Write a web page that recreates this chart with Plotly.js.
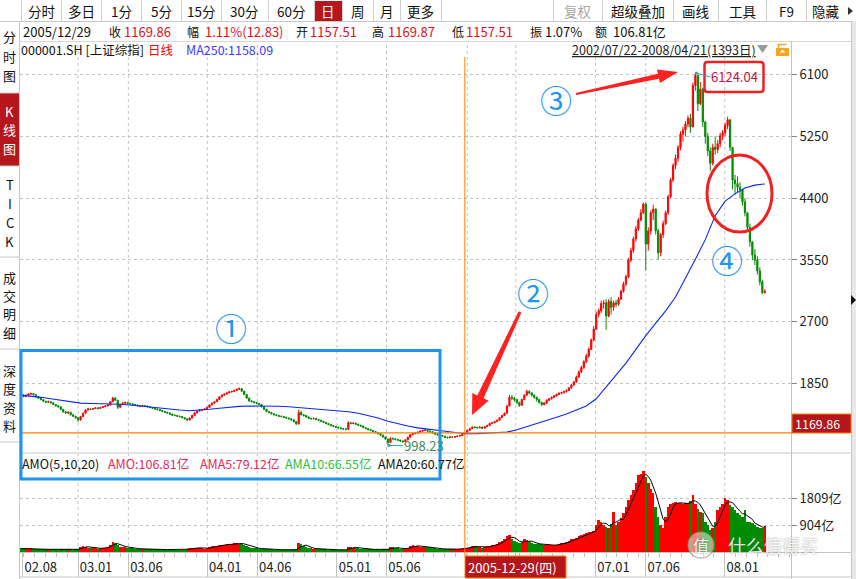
<!DOCTYPE html>
<html>
<head>
<meta charset="utf-8">
<script src="https://cdn.plot.ly/plotly-3.0.1.min.js"></script>
<style>
html,body{margin:0;padding:0;background:#ffffff;overflow:hidden;}
#chart{width:856px;height:579px;}
</style>
</head>
<body>
<div id="chart"></div>
<script>
// ---------------- data: weekly bars (上证综指 2002/07/22-2008/04/21) ----------------
const firstOpen = 1700;
const weekClose = [
1690,1672,1690,1705,1712,1695,1668,1650,1628,1605,
1592,1600,1585,1560,1545,1530,1495,1460,1445,1455,
1420,1400,1378,1350,1395,1440,1485,1500,1495,1505,
1515,1505,1520,1530,1540,1555,1600,1650,1620,1525,
1560,1580,1590,1575,1570,1560,1555,1545,1538,1545,
1540,1530,1520,1510,1500,1492,1480,1465,1455,1445,
1430,1415,1410,1400,1395,1380,1365,1350,1375,1410,
1445,1470,1485,1490,1500,1520,1555,1580,1600,1630,
1665,1690,1705,1720,1735,1740,1755,1770,1780,1745,
1700,1650,1610,1600,1590,1575,1560,1530,1495,1465,
1450,1435,1420,1410,1400,1395,1385,1375,1365,1350,
1325,1295,1450,1420,1410,1390,1370,1365,1370,1355,
1345,1330,1315,1300,1285,1270,1260,1250,1240,1230,
1225,1220,1310,1300,1305,1290,1275,1265,1245,1230,
1215,1205,1190,1175,1160,1140,1115,1085,1040,1095,
1090,1080,1070,1058,1050,1075,1110,1145,1160,1165,
1180,1195,1205,1210,1195,1185,1170,1155,1145,1135,
1125,1112,1105,1115,1110,1120,1128,1135,1150,1170,
1205,1230,1250,1245,1240,1250,1235,1255,1270,1300,
1310,1325,1345,1380,1410,1440,1540,1660,1650,1630,
1590,1550,1630,1690,1740,1720,1690,1660,1630,1590,
1560,1580,1620,1640,1660,1680,1700,1715,1725,1740,
1755,1790,1830,1870,1940,2010,2070,2150,2230,2320,
2450,2600,2800,2850,2950,2960,2780,2980,2900,2960,
2940,3010,3120,3220,3320,3550,3680,3840,3980,4100,
4200,4320,3770,3950,4200,4250,3950,3650,3900,4050,
4200,4420,4650,4850,4950,5100,5280,5340,5420,5500,
5380,5950,6090,5700,5900,5450,5250,5050,4880,5100,
5070,5150,5260,5300,5400,5480,5100,4650,4600,4550,
4520,4350,4200,4000,3800,3620,3550,3400,3250,3100,3116];
const weekHigh = [
1712,1700,1698,1715,1725,1718,1700,1675,1655,1632,
1612,1615,1605,1590,1565,1555,1535,1500,1470,1465,
1460,1428,1405,1385,1405,1450,1495,1515,1510,1515,
1525,1522,1530,1540,1550,1565,1610,1665,1660,1625,
1570,1592,1600,1595,1585,1578,1570,1560,1552,1555,
1552,1545,1535,1525,1515,1505,1495,1485,1470,1460,
1450,1435,1425,1415,1408,1400,1385,1370,1385,1420,
1455,1480,1495,1500,1510,1530,1565,1592,1610,1640,
1675,1700,1715,1730,1745,1752,1765,1782,1795,1785,
1750,1705,1655,1620,1605,1595,1580,1565,1535,1500,
1470,1455,1440,1428,1418,1410,1400,1392,1382,1370,
1355,1330,1490,1475,1430,1415,1395,1380,1382,1375,
1360,1350,1335,1320,1305,1290,1278,1268,1258,1248,
1240,1235,1330,1320,1318,1310,1295,1282,1270,1250,
1235,1222,1210,1195,1180,1165,1145,1120,1090,1110,
1105,1098,1088,1078,1068,1085,1120,1155,1170,1178,
1190,1205,1215,1223,1215,1200,1190,1175,1160,1150,
1140,1130,1118,1125,1122,1130,1138,1145,1158,1175,
1215,1240,1262,1265,1255,1262,1255,1265,1285,1312,
1322,1335,1355,1390,1420,1450,1555,1695,1690,1665,
1635,1600,1640,1700,1765,1755,1730,1700,1670,1640,
1600,1595,1630,1650,1672,1692,1712,1728,1738,1752,
1768,1800,1845,1885,1960,2030,2095,2170,2260,2345,
2470,2640,2840,2880,2990,3000,3010,3010,3040,2990,
3000,3040,3140,3250,3350,3580,3720,3870,4020,4130,
4250,4340,4335,4000,4230,4310,4260,3980,3920,4090,
4230,4450,4680,4880,5000,5130,5320,5380,5460,5540,
5560,5990,6124,6100,6000,5920,5460,5300,5100,5150,
5250,5200,5300,5340,5440,5522,5480,5100,4720,4700,
4620,4520,4400,4200,4050,3800,3700,3600,3450,3280,3150];
const weekLow = [
1675,1660,1662,1680,1695,1688,1660,1640,1620,1598,
1582,1585,1575,1552,1530,1520,1485,1450,1430,1430,
1410,1390,1365,1320,1340,1390,1435,1480,1485,1490,
1500,1495,1500,1515,1525,1535,1550,1595,1610,1500,
1510,1555,1570,1565,1560,1548,1545,1535,1525,1530,
1530,1522,1510,1500,1490,1480,1470,1455,1445,1435,
1420,1405,1398,1392,1385,1372,1355,1335,1340,1370,
1405,1440,1465,1475,1485,1495,1515,1550,1578,1595,
1625,1660,1685,1700,1715,1725,1735,1750,1760,1735,
1690,1640,1600,1590,1575,1565,1550,1520,1485,1455,
1440,1425,1412,1400,1390,1385,1375,1365,1355,1340,
1315,1280,1285,1410,1395,1380,1360,1355,1355,1345,
1335,1320,1305,1290,1275,1262,1250,1240,1230,1220,
1212,1205,1215,1290,1290,1280,1265,1255,1235,1220,
1205,1195,1180,1165,1150,1130,1105,1075,998,1030,
1075,1068,1060,1045,1038,1045,1070,1105,1140,1150,
1160,1175,1190,1198,1185,1175,1160,1145,1135,1125,
1115,1100,1095,1100,1100,1105,1115,1122,1130,1148,
1165,1200,1225,1235,1228,1235,1225,1230,1250,1265,
1295,1305,1320,1340,1375,1405,1435,1535,1620,1600,
1570,1530,1545,1620,1680,1700,1670,1640,1600,1575,
1540,1550,1570,1610,1630,1650,1670,1690,1700,1712,
1725,1745,1780,1820,1860,1925,1990,2050,2130,2200,
2310,2430,2590,2760,2820,2880,2590,2760,2800,2850,
2900,2920,3000,3100,3190,3300,3520,3650,3800,3950,
4080,4180,3404,3680,3900,4100,3900,3560,3600,3850,
4030,4170,4400,4620,4800,4900,5060,5180,5250,5380,
5300,5380,5880,5600,5680,5380,5150,4980,4778,4850,
5000,5020,5100,5200,5250,5350,5050,4520,4450,4480,
4400,4300,4150,3950,3730,3550,3480,3350,3200,3080,3090];
// average daily turnover of each week (亿)
const weekAmount = [
120,110,105,115,130,110,100,95,90,95,
85,90,95,88,85,80,95,100,90,85,
85,80,85,110,180,200,170,150,120,130,
120,115,130,140,150,170,250,340,300,220,
180,170,160,150,130,120,110,105,100,100,
95,95,90,88,85,85,82,80,85,80,
78,75,75,72,70,75,80,90,130,140,
150,140,130,120,110,120,160,190,200,210,
230,250,240,260,270,280,290,300,280,270,
240,200,170,150,130,120,110,100,100,95,
90,85,80,80,78,75,75,72,70,70,
75,90,300,260,200,160,130,120,110,100,
100,95,90,85,80,80,78,75,72,70,
70,75,180,160,150,140,120,110,100,95,
90,90,85,85,80,80,85,90,110,170,
160,130,120,110,100,120,150,200,220,210,
190,180,170,175,180,160,130,120,110,105,
100,95,90,90,95,100,100,105,110,115,
150,180,200,190,170,160,150,170,190,210,
220,240,280,320,380,430,520,570,450,380,
330,300,350,420,400,340,300,280,260,270,
260,240,230,220,230,240,250,270,290,310,
340,380,420,440,480,520,560,600,640,660,
680,700,900,1072,1000,900,850,800,950,1350,
905,1000,1150,1300,1500,1740,1900,2077,2300,2580,
2600,2725,2500,2300,2100,1965,1500,1183,900,793,
1183,1518,1600,1650,1685,1640,1630,1600,1650,1630,
1700,1900,1600,1450,1350,1295,1015,900,740,800,
1000,1407,1500,1600,1800,1740,1575,1500,1400,1295,
1250,1183,1400,1015,1000,960,900,850,800,795,880];
// MA250 read every 4th week
const ma250Step = 4;
const ma250 = [
1690,1678,1660,1640,1622,1600,1580,1575,1573,1572,
1565,1555,1540,1530,1515,1500,1485,1476,1482,1496,
1510,1528,1536,1540,1541,1540,1538,1530,1518,1508,
1500,1490,1480,1462,1440,1410,1375,1330,1295,1265,
1240,1220,1205,1190,1172,1158,1160,1165,1170,1182,
1215,1255,1300,1340,1385,1430,1480,1540,1640,1800,
1960,2130,2320,2510,2680,2850,3040,3290,3560,3830,
4160,4360,4460,4540,4580,4596];
const priceTicks = [1850,2700,3550,4400,5250,6100];
const amountTicks = [904,1809];
const amountTickText = ['904亿','1809亿'];
const dateTickVals = ['2002-07-29','2003-01-01','2003-05-23','2004-01-01','2004-05-21','2005-01-01','2005-05-21','2006-01-04','2006-05-21','2007-01-01','2007-05-23','2008-01-01'];
const dateTickText = ['02.08','03.01','03.06','04.01','04.06','05.01','05.06','','','07.01','07.06','08.01'];
const gridDates = dateTickVals.slice(1);
const lowWeek = 148, peakWeek = 272, cursorWeek = 179;

// ---------------- derived series ----------------
const weekDates = weekClose.map((_, i) => new Date(Date.UTC(2002, 6, 22 + 2 + 7 * i)).toISOString().slice(0, 10));
const weekOpen = weekClose.map((c, i) => i === 0 ? firstOpen : weekClose[i - 1]);
const hi = weekHigh.map((h, i) => Math.max(h, weekOpen[i], weekClose[i]));
const lo = weekLow.map((l, i) => Math.min(l, weekOpen[i], weekClose[i]));
const UP = '#FF0000', DOWN = '#008C00';
const volColors = weekClose.map((c, i) => c >= weekOpen[i] ? UP : DOWN);
const maDates = ma250.map((_, k) => weekDates[k * ma250Step]);
const amaLine = weekAmount.map((v, i) => { const s = weekAmount.slice(Math.max(0, i - 3), i + 1); return s.reduce((a, b) => a + b, 0) / s.length; });

// ---------------- pixel helpers for frame decorations ----------------
const L = 20, R = 791, T = 57, B = 552;
const PW = R - L, PH = B - T;
const fx = x => (x - L) / PW;
const fy = y => (B - y) / PH;
const FONT = '"Noto Sans CJK SC", "Noto Sans", "DejaVu Sans", sans-serif';
const RED = '#E0101A';
const shapes = [], ann = [];
function line(x0, y0, x1, y1, color, width, dash) {
  shapes.push({type:'line', xref:'paper', yref:'paper', x0:fx(x0), y0:fy(y0), x1:fx(x1), y1:fy(y1), line:{color:color, width:width || 1, dash:dash || 'solid'}, layer:'above'});
}
function rect(x0, y0, x1, y1, fill, stroke, width) {
  shapes.push({type:'rect', xref:'paper', yref:'paper', x0:fx(x0), y0:fy(y0), x1:fx(x1), y1:fy(y1), fillcolor:fill || 'rgba(0,0,0,0)', line:{color:stroke || 'rgba(0,0,0,0)', width:stroke ? (width || 1) : 0}, layer:'above'});
}
function pt(p) { return fx(p[0]).toFixed(5) + ',' + fy(p[1]).toFixed(5); }
function poly(pts, fill, stroke, width, open) {
  const d = pts.map((p, i) => (i ? 'L' : 'M') + pt(p)).join(' ') + (open ? '' : ' Z');
  shapes.push({type:'path', xref:'paper', yref:'paper', path:d, fillcolor:fill || 'rgba(0,0,0,0)', line:{color:stroke || 'rgba(0,0,0,0)', width:stroke ? (width || 1) : 0}, layer:'above'});
}
function roundRect(x0, y0, x1, y1, r, stroke, width) {
  const d = 'M' + pt([x0 + r, y0]) + ' L' + pt([x1 - r, y0]) + ' Q' + pt([x1, y0]) + ' ' + pt([x1, y0 + r]) +
    ' L' + pt([x1, y1 - r]) + ' Q' + pt([x1, y1]) + ' ' + pt([x1 - r, y1]) +
    ' L' + pt([x0 + r, y1]) + ' Q' + pt([x0, y1]) + ' ' + pt([x0, y1 - r]) +
    ' L' + pt([x0, y0 + r]) + ' Q' + pt([x0, y0]) + ' ' + pt([x0 + r, y0]) + ' Z';
  shapes.push({type:'path', xref:'paper', yref:'paper', path:d, line:{color:stroke, width:width}, layer:'above'});
}
function arrow(x0, y0, x1, y1, tailW, shaftW, headLen, headW, color) {
  const dx = x1 - x0, dy = y1 - y0, len = Math.hypot(dx, dy), ux = dx / len, uy = dy / len, nx = -uy, ny = ux;
  const bx = x1 - ux * headLen, by = y1 - uy * headLen;
  poly([[x0 + nx * tailW / 2, y0 + ny * tailW / 2], [bx + nx * shaftW / 2, by + ny * shaftW / 2], [bx + nx * headW / 2, by + ny * headW / 2], [x1, y1],
        [bx - nx * headW / 2, by - ny * headW / 2], [bx - nx * shaftW / 2, by - ny * shaftW / 2], [x0 - nx * tailW / 2, y0 - ny * tailW / 2]], color);
}
function text(x, y, s, color, size, anchor, fontExtra) {
  ann.push({xref:'paper', yref:'paper', x:fx(x), y:fy(y), text:s, showarrow:false, xanchor:anchor || 'left', yanchor:'middle',
    font:Object.assign({family:FONT, size:size || 13, color:color || '#111'}, fontExtra || {}), borderpad:0});
}

// vertical dotted grid
gridDates.forEach(d => shapes.push({type:'line', xref:'x', yref:'paper', x0:d, x1:d, y0:0, y1:fy(42), line:{color:'#C4C4C4', width:1, dash:'dot'}, layer:'below'}));

// toolbar
const cells = [[21,61,'分时'],[61,101,'多日'],[101,141,'1分'],[141,181,'5分'],[181,221,'15分'],[221,268,'30分'],[268,314,'60分'],[314,342,'日'],[342,373,'周'],[373,400,'月'],[400,441,'更多'],[441,553,''],[553,602,'复权'],[602,673,'超级叠加'],[673,718,'画线'],[718,766,'工具'],[766,806,'F9'],[806,856,'隐藏']];
rect(314, 1, 342, 21, '#B5161B');
cells.forEach(c => {
  line(c[0] + 0.5, 0, c[0] + 0.5, 21, '#D0D0D0');
  const cx = c[2] === '隐藏' ? 826 : (c[0] + c[1]) / 2;
  const col = c[2] === '日' ? '#FFFFFF' : (c[2] === '复权' ? '#A8A8A8' : '#111');
  if (c[2]) text(cx, 11, c[2], col, 13.5, 'center');
});
poly([[848, 7], [848, 15], [853, 11]], '#333');
line(0, 21.5, 856, 21.5, '#C8C8C8');
line(20, 41.5, 851, 41.5, '#D6D6D6');

// left sidebar
rect(0, 93, 19, 166, '#B5161B');
line(19.5, 21, 19.5, 579, '#C8C8C8');
[93, 166, 257, 349, 442].forEach(y => line(0, y, 19, y, '#C8C8C8'));
[['分',37],['时',56.5],['图',75.5]].forEach(a => text(9.5, a[1], a[0], '#111', 13, 'center'));
[['K',111],['线',130],['图',148.5]].forEach(a => text(9.5, a[1], a[0], '#FFFFFF', 13, 'center'));
[['T',184],['I',203],['C',222.5],['K',241.5]].forEach(a => text(9.5, a[1], a[0], '#111', 13, 'center'));
[['成',277],['交',295],['明',313.5],['细',332],['深',370],['度',388],['资',407],['料',425]].forEach(a => text(9.5, a[1], a[0], '#111', 13, 'center'));

// info rows
text(22, 31, '2005/12/29', '#111', 13);
text(108, 31, '收', '#111', 12); text(123, 31, '1169.86', RED, 13);
text(186, 31, '幅', '#111', 12); text(204, 31, '1.11%(12.83)', RED, 13);
text(295, 31, '开', '#111', 12); text(309, 31, '1157.51', RED, 13);
text(371, 31, '高', '#111', 12); text(387, 31, '1169.87', RED, 13);
text(451, 31, '低', '#111', 12); text(465, 31, '1157.51', RED, 13);
text(529, 31, '振', '#111', 12); text(544, 31, '1.07%', '#111', 13);
text(594, 31, '额', '#111', 12); text(612, 31, '106.81亿', '#111', 13);
text(20, 50, '000001.SH [上证综指]', '#111', 12.5);
text(147, 50, '日线', '#FF0000', 12.5);
text(185, 50, 'MA250:1158.09', '#3C3CFF', 12.5);
text(571, 50, '2002/07/22-2008/04/21(1393日)', '#222', 12.5, 'left', {lineposition:'under'});
poly([[757, 45], [768, 45], [762.5, 53]], '#9A9A9A');
rect(776, 48, 789, 56, '#F5A623');
poly([[778.5, 48], [778.5, 44.5], [786.5, 44.5]], null, '#F5A623', 1.6, true);
poly([[782.5, 49.5], [779.8, 52.6], [785.2, 52.6]], '#FFFFFF');

// frame lines
line(20, 453, 851, 453, '#C8C8C8');
line(791.5, 41, 791.5, 579, '#C4C4C4');
line(851.5, 21, 851.5, 579, '#C8C8C8');
rect(852, 21, 856, 579, '#E8E8E8');
poly([[851, 295], [851, 305], [856, 300]], '#111');
line(20, 552.5, 851, 552.5, '#C4C4C4');
line(20, 577, 851, 577, '#C8C8C8');

// volume legend
text(21, 463, 'AMO(5,10,20)', '#111', 12.5);
text(107, 463, 'AMO:106.81亿', '#E8285A', 12.5);
text(199, 463, 'AMA5:79.12亿', '#E8285A', 12.5);
text(284, 463, 'AMA10:66.55亿', '#33C033', 12.5);
text(377, 463, 'AMA20:60.77亿', '#111', 12.5);

// crosshair at 2005-12-29
shapes.push({type:'line', xref:'x', yref:'paper', x0:weekDates[cursorWeek], x1:weekDates[cursorWeek], y0:fy(556), y1:1, line:{color:'#FF8000', width:1}, layer:'above'});
shapes.push({type:'line', xref:'paper', yref:'y', x0:0, x1:fx(792), y0:1169.86, y1:1169.86, line:{color:'#FF8000', width:1.2}, layer:'above'});
rect(792, 414, 851, 433, '#B5161B', '#FF8000', 1);
text(794, 423.5, '1169.86', '#FFFFFF', 12.5);
rect(465, 556, 566, 578, '#B5161B', '#FF8000', 1);
text(467, 567, '2005-12-29(四)', '#FFFFFF', 13);

// markers
ann.push({xref:'x', yref:'y', x:weekDates[lowWeek], y:998.23, text:'998.23', showarrow:true, ax:15, ay:0, xanchor:'left', yanchor:'middle',
  arrowhead:7, arrowsize:0.7, arrowwidth:1, arrowcolor:'#3BA0B5', standoff:1, borderpad:0, font:{family:FONT, size:13, color:'#3A8A5A'}});
ann.push({xref:'x', yref:'y', x:weekDates[peakWeek], y:6124.04, text:'6124.04', showarrow:true, ax:15, ay:4, xanchor:'left', yanchor:'middle',
  arrowhead:7, arrowsize:0.7, arrowwidth:1, arrowcolor:'#3BA0B5', standoff:1, borderpad:0, font:{family:FONT, size:13, color:'#C8103A'}});

// annotations drawn on the screenshot
rect(21, 350.5, 440, 479, null, '#1E96F0', 3);
roundRect(704.5, 62, 763.5, 92, 3, '#F02020', 2.5);
shapes.push({type:'circle', xref:'paper', yref:'paper', x0:fx(707), x1:fx(772), y0:fy(232), y1:fy(155), line:{color:'#F22020', width:3}, layer:'above'});
arrow(576, 94, 678, 72, 2, 5, 20, 14, '#FF2222');
arrow(520, 312, 472, 415, 3, 7, 20, 18, '#FF2222');
text(231, 327, '①', '#1E96F0', 32, 'center');
text(533, 292, '②', '#1E96F0', 32, 'center');
text(556, 99, '③', '#1E96F0', 32, 'center');
text(727, 259, '④', '#1E96F0', 32, 'center');

// watermark
shapes.push({type:'circle', xref:'paper', yref:'paper', x0:fx(688), x1:fx(714), y0:fy(558), y1:fy(532), fillcolor:'rgba(255,255,255,0.5)', line:{color:'rgba(140,140,140,0.55)', width:1.5}, layer:'above'});
text(701, 545, '值', 'rgba(255,255,255,0.92)', 16, 'center', {shadow:'0px 0px 2px rgba(90,90,90,0.8)'});
text(727, 545, '什么值得买', 'rgba(255,255,255,0.85)', 18, 'left', {shadow:'0px 0px 2px rgba(90,90,90,0.7)'});

// ---------------- traces ----------------
const traces = [
  {type:'candlestick', x:weekDates, open:weekOpen, high:hi, low:lo, close:weekClose, xaxis:'x', yaxis:'y',
   increasing:{line:{color:UP, width:1}, fillcolor:UP}, decreasing:{line:{color:DOWN, width:1}, fillcolor:DOWN},
   whiskerwidth:0, hoverinfo:'skip'},
  {type:'scatter', mode:'lines', x:maDates, y:ma250, xaxis:'x', yaxis:'y', line:{color:'#0A28F0', width:1.1}, hoverinfo:'skip'},
  {type:'bar', x:weekDates, y:weekAmount, width:7 * 86400000, xaxis:'x', yaxis:'y2', marker:{color:volColors, line:{width:0}}, hoverinfo:'skip'},
  {type:'scatter', mode:'lines', x:weekDates, y:amaLine, xaxis:'x', yaxis:'y2', line:{color:'#000000', width:1}, hoverinfo:'skip'}
];

const axisFont = {family:FONT, size:13, color:'#222'};
const layout = {
  width:856, height:579,
  margin:{l:20, r:65, t:57, b:27, pad:0},
  paper_bgcolor:'#FFFFFF', plot_bgcolor:'#FFFFFF',
  showlegend:false, hovermode:false, bargap:0,
  font:{family:FONT, size:12, color:'#222'},
  xaxis:{type:'date', range:['2002-07-21', '2008-07-06'], anchor:'y2', automargin:false,
    rangeslider:{visible:false}, showgrid:false, zeroline:false, showline:false,
    tickmode:'array', tickvals:dateTickVals, ticktext:dateTickText,
    ticks:'outside', ticklen:24, tickcolor:'#C4C4C4', tickwidth:1,
    tickfont:axisFont, ticklabelshift:18, ticklabelstandoff:-21,
    minor:{ticks:'outside', ticklen:4, dtick:'M1', tick0:'2002-08-01', tickcolor:'#C4C4C4', showgrid:false}},
  yaxis:{domain:[0.2, 1], side:'right', range:[894, 6343], anchor:'x', automargin:false,
    tickmode:'array', tickvals:priceTicks, ticks:'outside', ticklen:5, tickcolor:'#888',
    showgrid:true, gridcolor:'#C4C4C4', griddash:'dot', zeroline:false, showline:false, tickfont:axisFont},
  yaxis2:{domain:[0, 0.2], side:'right', range:[0, 3317], anchor:'x', automargin:false,
    tickmode:'array', tickvals:amountTicks, ticktext:amountTickText, ticks:'outside', ticklen:5, tickcolor:'#888',
    showgrid:true, gridcolor:'#C4C4C4', griddash:'dot', zeroline:false, showline:false, tickfont:axisFont},
  shapes:shapes,
  annotations:ann
};

Plotly.newPlot('chart', traces, layout, {displayModeBar:false, staticPlot:true});
</script>
</body>
</html>
